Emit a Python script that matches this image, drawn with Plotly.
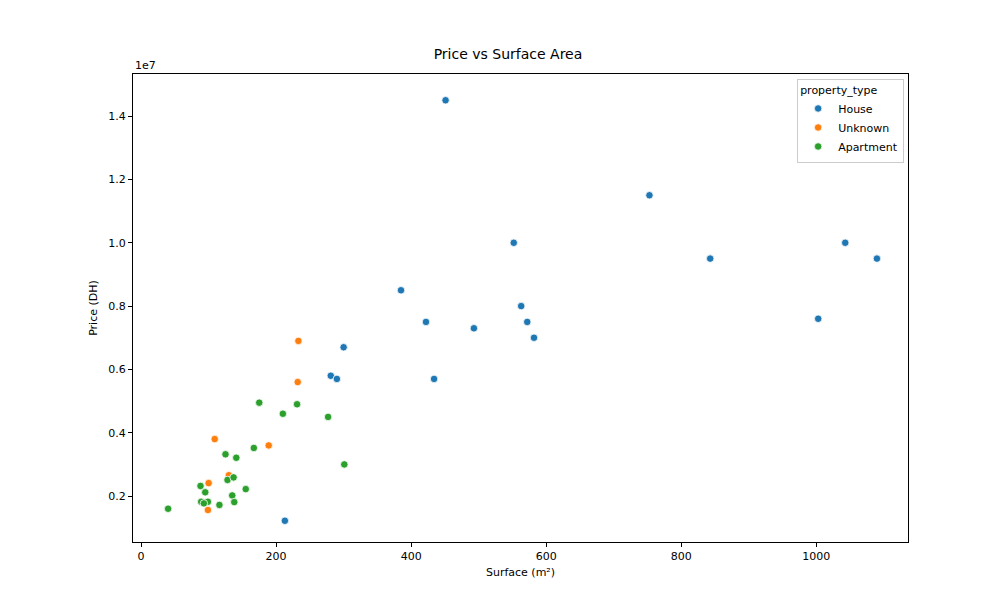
import plotly.graph_objects as go

# ── DATA ──────────────────────────────
house_x = [213, 451, 753, 552, 385, 422, 563, 572, 493, 582, 300, 281, 290, 434, 1090, 1043, 1003, 843]
house_y = [1.22e6, 14.5e6, 11.5e6, 10.0e6, 8.5e6, 7.5e6, 8.0e6, 7.5e6, 7.3e6, 7.0e6, 6.7e6, 5.8e6, 5.7e6, 5.7e6,
           9.5e6, 10.0e6, 7.6e6, 9.5e6]
unknown_x = [233, 232, 109, 189, 130, 100, 99]
unknown_y = [6.9e6, 5.6e6, 3.8e6, 3.6e6, 2.66e6, 2.41e6, 1.56e6]
apt_x = [175, 231, 210, 277, 125, 141, 167, 301, 88, 95, 128, 137, 155, 135, 40, 89, 99, 93, 116, 138]
apt_y = [4.95e6, 4.9e6, 4.6e6, 4.5e6, 3.32e6, 3.21e6, 3.52e6, 3.0e6, 2.32e6, 2.12e6, 2.51e6, 2.59e6, 2.22e6,
         2.02e6, 1.6e6, 1.82e6, 1.82e6, 1.77e6, 1.72e6, 1.81e6]

series = [("House", house_x, house_y, "#1f77b4"),
          ("Unknown", unknown_x, unknown_y, "#ff7f0e"),
          ("Apartment", apt_x, apt_y, "#2ca02c")]

y_ticks = [0.2, 0.4, 0.6, 0.8, 1.0, 1.2, 1.4]

fig = go.Figure()
for name, xs, ys, col in series:
    fig.add_trace(go.Scatter(x=xs, y=ys, mode="markers", name=name,
                             marker=dict(color=col, size=7.5, line=dict(color="white", width=0.8))))

axis_style = dict(showgrid=False, zeroline=False, showline=True, linecolor="black", mirror=True,
                  automargin=False, ticks="outside", ticklen=4, tickcolor="black",
                  tickfont=dict(size=11, color="black"))

fig.update_layout(
    width=1000, height=600,
    margin=dict(l=125, r=100, t=66, b=66, autoexpand=False),
    paper_bgcolor="white", plot_bgcolor="white",
    font=dict(family="DejaVu Sans", color="black"),
    title=dict(text="Price vs Surface Area", x=0.5, xanchor="center", y=0.915, yanchor="bottom",
               font=dict(size=14)),
    legend=dict(title=dict(text="property_type", side="top", font=dict(size=11)),
                x=0.995, y=0.99, xanchor="right", yanchor="top",
                bordercolor="#cccccc", borderwidth=1, font=dict(size=11), tracegroupgap=0),
    xaxis=dict(title=dict(text="Surface (m²)", font=dict(size=11), standoff=6), range=[-12, 1136],
               tickvals=[0, 200, 400, 600, 800, 1000], **axis_style),
    yaxis=dict(title=dict(text="Price (DH)", font=dict(size=11), standoff=8), range=[0.55e6, 15.33e6],
               tickvals=[v * 1e7 for v in y_ticks], ticktext=[f"{v:.1f}" for v in y_ticks], **axis_style),
)
fig.add_annotation(text="1e7", xref="paper", yref="paper", x=0, y=1.0, xanchor="left", yanchor="bottom",
                   showarrow=False, font=dict(size=11))

fig.write_html("out.html")
